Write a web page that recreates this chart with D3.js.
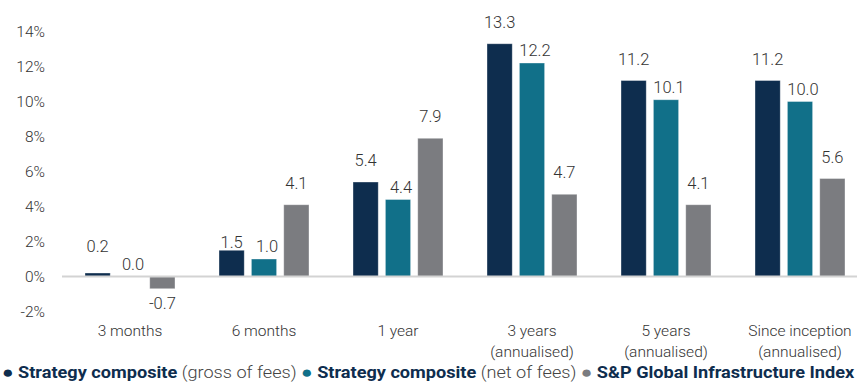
<!DOCTYPE html>
<html>
<head>
<meta charset="utf-8">
<script src="https://cdn.jsdelivr.net/npm/d3@7"></script>
<style>
  body { margin: 0; background: #fff; }
  text { font-family: Roboto, "Liberation Sans", sans-serif; fill: #333; font-weight: 300; }
</style>
</head>
<body>
<script>
// periods and series values (%)
var periods = ["3 months", "6 months", "1 year", "3 years\n(annualised)", "5 years\n(annualised)", "Since inception\n(annualised)"];
var gross = [0.2, 1.5, 5.4, 13.3, 11.2, 11.2];
var net = [0.0, 1.0, 4.4, 12.2, 10.1, 10.0];
var index = [-0.7, 4.1, 7.9, 4.7, 4.1, 5.6];
var seriesNames = ["gross", "net", "index"];
var yTicks = [-2, 0, 2, 4, 6, 8, 10, 12, 14];

var colors = {gross: "#0e2d4e", net: "#117089", index: "#7b7c80"};

var width = 857, height = 382;

var svg = d3.select("body").append("svg")
    .attr("width", width)
    .attr("height", height);

//Set the ranges
var x = d3.scaleBand().domain(periods).range([63, 867]).padding(0);
var xInner = d3.scaleBand().domain(seriesNames).range([-45, 45]).paddingInner(0.22).paddingOuter(0);
var y = d3.scaleLinear().domain([-2, 14]).range([311.5, 31.5]);

var rows = periods.map(function(p, i) {
  return {period: p, gross: gross[i], net: net[i], index: index[i]};
});

//y axis labels
var yAxis = svg.append("g")
    .attr("transform", "translate(45,0)")
    .call(d3.axisLeft(y).tickValues(yTicks).tickSize(0).tickPadding(0).tickFormat(function(d) { return d + "%"; }));
yAxis.select(".domain").remove();
yAxis.selectAll("text")
    .style("font-size", "15.5px")
    .style("font-family", "Roboto, sans-serif")
    .style("font-weight", 300)
    .attr("fill", "#333");

//bars
var groups = svg.append("g").selectAll("g")
    .data(rows)
    .enter().append("g")
    .attr("transform", function(d) { return "translate(" + (x(d.period) + x.bandwidth() / 2) + ",0)"; });

groups.selectAll("rect")
    .data(function(d) { return seriesNames.map(function(k) { return {key: k, value: d[k]}; }); })
    .enter().append("rect")
    .attr("x", function(d) { return xInner(d.key); })
    .attr("width", xInner.bandwidth())
    .attr("y", function(d) { return y(Math.max(0, d.value)); })
    .attr("height", function(d) { return Math.abs(y(d.value) - y(0)); })
    .attr("fill", function(d) { return colors[d.key]; })
    .attr("stroke", "rgba(255,255,255,0.45)")
    .attr("stroke-width", 0.8);

//zero line
svg.append("line")
    .attr("x1", 62).attr("x2", width)
    .attr("y1", y(0)).attr("y2", y(0))
    .attr("stroke", "#d3d3d3")
    .attr("stroke-width", 2);

//value labels
groups.selectAll("text.val")
    .data(function(d) { return seriesNames.map(function(k) { return {key: k, value: d[k]}; }); })
    .enter().append("text")
    .attr("class", "val")
    .attr("text-anchor", "middle")
    .style("font-size", "16.5px")
    .attr("x", function(d) { return xInner(d.key) + xInner.bandwidth() / 2 + (d.key == "net" ? 3 : 0); })
    .attr("y", function(d) {
      if (d.value < 0) return y(d.value) + 20;
      var gap = d.key == "net" ? 13 : 22;
      if (d.key == "gross" && d.value < 3 && d.value > 1) gap = 8;
      if (d.key == "gross" && d.value <= 1) gap = 27;
      return y(d.value) - gap + 6;
    })
    .text(function(d) { return d.value.toFixed(1); });

//x labels
var xl = svg.append("g").selectAll("text")
    .data(periods)
    .enter().append("text")
    .attr("text-anchor", "middle")
    .style("font-size", "15.5px")
    .attr("x", function(d) { return x(d) + x.bandwidth() / 2; })
    .attr("y", 336);
xl.selectAll("tspan")
    .data(function(d) { return d.split("\n"); })
    .enter().append("tspan")
    .attr("x", function() { return d3.select(this.parentNode).attr("x"); })
    .attr("dy", function(d, i) { return i ? 21 : 0; })
    .text(function(d) { return d; });

//legend
var legendItems = [
  {bold: "Strategy composite", rest: " (gross of fees) ", color: colors.gross},
  {bold: "Strategy composite", rest: " (net of fees) ", color: colors.net},
  {bold: "S&P Global Infrastructure Index", rest: "", color: colors.index}
];
var lg = svg.append("text")
    .attr("x", 0)
    .attr("y", 378)
    .style("font-size", "16px");
legendItems.forEach(function(d) {
  lg.append("tspan").attr("fill", d.color).style("font-size", "17px").text("\u25CF");
  lg.append("tspan").text(" ");
  lg.append("tspan").attr("fill", "#0e2d4e").style("font-weight", "bold").text(d.bold);
  lg.append("tspan").attr("fill", "#444").text(d.rest);
});
var w = lg.node().getComputedTextLength();
lg.attr("transform", "translate(2,0) scale(" + (853 / w) + ",1)");
</script>
</body>
</html>
